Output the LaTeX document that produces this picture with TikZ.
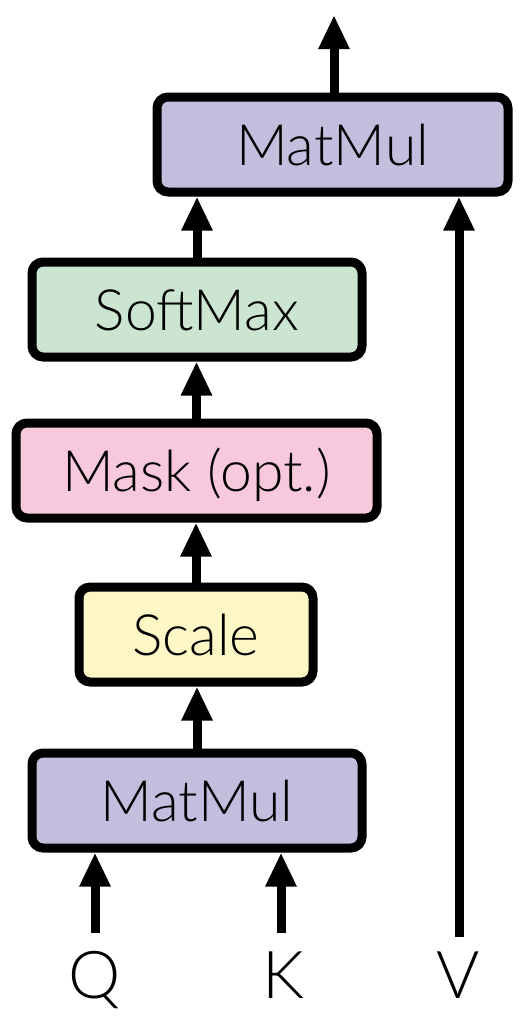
\documentclass[tikz,border=0pt]{standalone}
\usepackage{fontspec}
\setmainfont{Lato Light}
\usetikzlibrary{arrows.meta}
\definecolor{matmulc}{RGB}{196,190,222}
\definecolor{softc}{RGB}{204,229,209}
\definecolor{maskc}{RGB}{248,201,221}
\definecolor{scalec}{RGB}{253,247,198}
\begin{document}
\begin{tikzpicture}[x=1pt,y=-1pt,
  opbox/.style={draw=black,line width=9pt,rounded corners=11pt,minimum height=95pt,
    inner sep=0pt,text height=41pt,text depth=0pt,font=\fontsize{57}{60}\selectfont},
  flow/.style={line width=9pt,-{Triangle[width=29pt,length=34pt]}},
  lbl/.style={inner sep=0pt,text height=47pt,text depth=0pt,font=\fontsize{66}{70}\selectfont}]
\useasboundingbox (0,0) rectangle (528,1026);
\node[opbox,fill=matmulc,minimum width=351pt] (mm2) at (332.5,144.5) {MatMul};
\node[opbox,fill=softc,minimum width=330pt] (soft) at (197,309.5) {SoftMax};
\node[opbox,fill=maskc,minimum width=361pt] (mask) at (196.5,470.5) {Mask (opt.)};
\node[opbox,fill=scalec,minimum width=234pt] (scale) at (196,634.5) {Scale};
\node[opbox,fill=matmulc,minimum width=330pt] (mm1) at (197,800.5) {MatMul};
\node[lbl] (q) at (95,975) {Q};
\node[lbl] (k) at (283,975) {K};
\node[lbl] (v) at (458,975) {V};
\coordinate (qs) at (95,933);
\coordinate (ks) at (281,933);
\coordinate (vs) at (459,937);
\coordinate (out) at (334,15);
\draw[flow] (qs) -- (qs |- mm1.south);
\draw[flow] (ks) -- (ks |- mm1.south);
\draw[flow] (mm1.north) -- (mm1.north |- scale.south);
\draw[flow] (scale.north) -- (scale.north |- mask.south);
\draw[flow] (mask.north) -- (mask.north |- soft.south);
\draw[flow] (soft.north) -- (soft.north |- mm2.south);
\draw[flow] (vs) -- (vs |- mm2.south);
\draw[flow] (out |- mm2.north) -- (out);
\end{tikzpicture}
\end{document}
